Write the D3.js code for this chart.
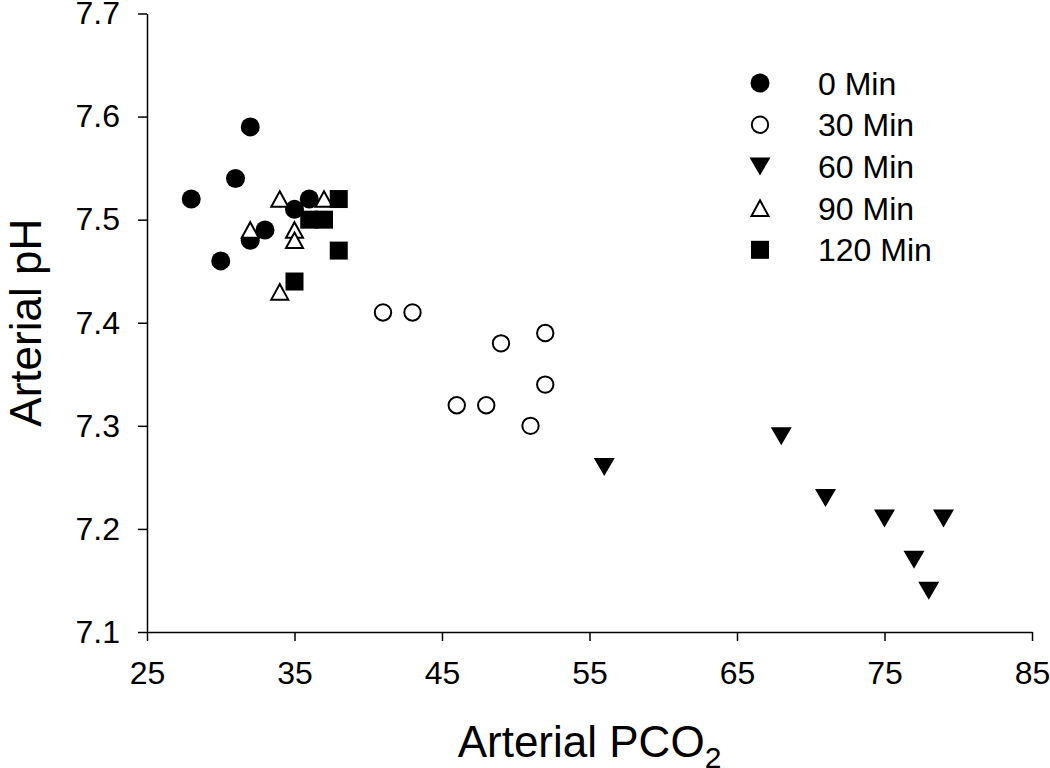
<!DOCTYPE html>
<html>
<head>
<meta charset="utf-8">
<script src="https://cdn.jsdelivr.net/npm/d3@7"></script>
<style>
  html, body { margin: 0; padding: 0; background: #fff; }
  svg { display: block; }
  text { font-family: "Liberation Sans", Arial, sans-serif; fill: #000; }
</style>
</head>
<body>
<svg id="chart" width="1050" height="768"></svg>
<script>
// ---- Data ----
const xTicks = [25, 35, 45, 55, 65, 75, 85];
const yTicks = [7.1, 7.2, 7.3, 7.4, 7.5, 7.6, 7.7];

const min0PCO2 = [28, 30, 31, 32, 32, 33, 35, 36];
const min0pH   = [7.52, 7.46, 7.54, 7.59, 7.48, 7.49, 7.51, 7.52];

const min30PCO2 = [41, 43, 46, 48, 49, 51, 52, 52];
const min30pH   = [7.41, 7.41, 7.32, 7.32, 7.38, 7.30, 7.39, 7.34];

const min60PCO2 = [56, 68, 71, 75, 77, 78, 79];
const min60pH   = [7.26, 7.29, 7.23, 7.21, 7.17, 7.14, 7.21];

const min90PCO2 = [32, 34, 34, 35, 35, 37];
const min90pH   = [7.49, 7.52, 7.43, 7.49, 7.48, 7.52];

const min120PCO2 = [35, 36, 37, 38, 38];
const min120pH   = [7.44, 7.50, 7.50, 7.52, 7.47];

const seriesNames = ["0 Min", "30 Min", "60 Min", "90 Min", "120 Min"];
const seriesShapes = ["circle", "circle", "triangleDown", "triangleUp", "square"];
const seriesFilled = [true, false, true, false, true];
const seriesX = [min0PCO2, min30PCO2, min60PCO2, min90PCO2, min120PCO2];
const seriesY = [min0pH, min30pH, min60pH, min90pH, min120pH];

const xTitle = "Arterial PCO";
const xTitleSub = "2";
const yTitle = "Arterial pH";

// ---- Layout ----
const svg = d3.select("#chart");
const x = d3.scaleLinear().domain([25, 85]).range([147, 1032]);
const y = d3.scaleLinear().domain([7.1, 7.7]).range([632, 13.5]);

function symbolPath(shape, filled) {
  switch (shape) {
    case "circle": {
      const r = filled ? 9.5 : 8.2;
      return `M${-r},0A${r},${r} 0 1,0 ${r},0A${r},${r} 0 1,0 ${-r},0Z`;
    }
    case "triangleDown": {
      const w = 10.5, h = 9;
      return `M${-w},${-h}L${w},${-h}L0,${h}Z`;
    }
    case "triangleUp": {
      const w = 8.5, h = 7.8;
      return `M0,${-h}L${w},${h}L${-w},${h}Z`;
    }
    case "square": {
      const s = 9;
      return `M${-s},${-s}H${s}V${s}H${-s}Z`;
    }
  }
}

// ---- Axes ----
const xAxis = d3.axisBottom(x).tickValues(xTicks).tickSize(9).tickSizeOuter(0).tickPadding(20)
  .tickFormat(d3.format("d"));
const yAxis = d3.axisLeft(y).tickValues(yTicks).tickSize(9).tickSizeOuter(0).tickPadding(18)
  .tickFormat(d3.format(".1f"));

const gx = svg.append("g").attr("transform", `translate(0,${y(7.1)})`).call(xAxis);
const gy = svg.append("g").attr("transform", `translate(${x(25)},0)`).call(yAxis);

[gx, gy].forEach(g => {
  g.selectAll("path.domain").attr("stroke", "#000").attr("stroke-width", 1.5);
  g.selectAll(".tick line").attr("stroke", "#000").attr("stroke-width", 1.5);
  g.selectAll(".tick text")
    .style("font-family", '"Liberation Sans", Arial, sans-serif')
    .style("font-size", "32px").attr("fill", "#000");
});

// ---- Titles ----
const xt = svg.append("text")
  .attr("x", (x.range()[0] + x.range()[1]) / 2)
  .attr("y", 757)
  .attr("text-anchor", "middle")
  .style("font-size", "44px");
xt.append("tspan").text(xTitle);
xt.append("tspan").attr("dy", 11).style("font-size", "30px").text(xTitleSub);

svg.append("text")
  .attr("transform", `translate(41,${(y.range()[0] + y.range()[1]) / 2}) rotate(-90)`)
  .attr("text-anchor", "middle")
  .style("font-size", "44px")
  .text(yTitle);

// ---- Points ----
seriesNames.forEach((name, i) => {
  const pts = seriesX[i].map((v, j) => ({ px: v, ph: seriesY[i][j] }));
  svg.append("g").attr("class", "series")
    .selectAll("path").data(pts).join("path")
    .attr("transform", d => `translate(${x(d.px)},${y(d.ph)})`)
    .attr("d", symbolPath(seriesShapes[i], seriesFilled[i]))
    .attr("fill", seriesFilled[i] ? "#000" : "#fff")
    .attr("stroke", "#000")
    .attr("stroke-width", seriesFilled[i] ? 0 : 2)
    .attr("stroke-linejoin", "miter");
});

// ---- Legend ----
const legend = svg.append("g").attr("transform", "translate(760,83)");
const rows = legend.selectAll("g").data(seriesNames).join("g")
  .attr("transform", (d, i) => `translate(0,${i * 41.7})`);
rows.append("path")
  .attr("d", (d, i) => symbolPath(seriesShapes[i], seriesFilled[i]))
  .attr("fill", (d, i) => seriesFilled[i] ? "#000" : "#fff")
  .attr("stroke", "#000")
  .attr("stroke-width", (d, i) => seriesFilled[i] ? 0 : 2);
rows.append("text")
  .attr("x", 58)
  .attr("dy", "0.36em")
  .style("font-size", "32px")
  .text(d => d);
</script>
</body>
</html>
